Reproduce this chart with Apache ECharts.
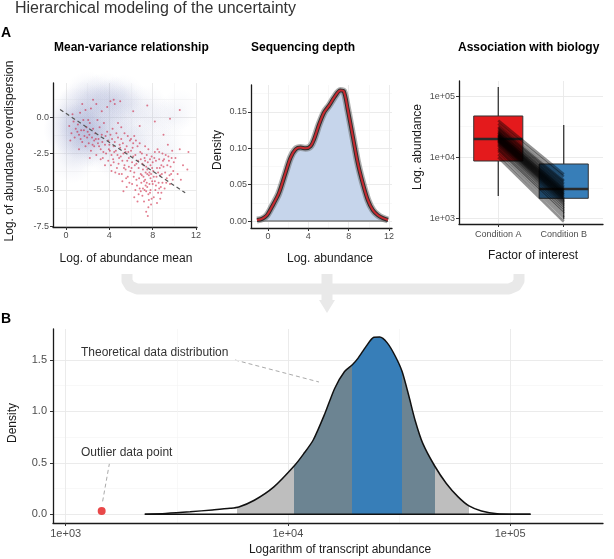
<!DOCTYPE html>
<html><head><meta charset="utf-8">
<script src="https://cdn.jsdelivr.net/npm/echarts@6/dist/echarts.min.js"></script>
<style>html,body{margin:0;padding:0;background:#fff}#c{width:614px;height:559px}</style>
</head><body><div id="c"></div>
<script>
// ---------------- DATA ----------------
// Panel A1: mean-variance relationship (log mean, log overdispersion)
const meanVarPoints = [
[0.3,-0.6],[0.5,-1.1],[0.7,-0.3],[0.8,-1.4],[0.9,-0.8],[0.6,0.2],[0.4,-1.6],
[1.1,-0.5],[1.2,-1.2],[1.3,0.3],[1.4,-0.9],[1.5,-1.7],[1.6,-0.2],[1.7,-1.3],[1.8,-2.0],[1.9,-0.7],[1.5,0.9],[1.2,-2.2],[1.8,0.5],
[2.0,-1.0],[2.1,-1.8],[2.2,-0.4],[2.3,-2.3],[2.4,-1.4],[2.5,-0.8],[2.6,-2.0],[2.7,-1.1],[2.8,-2.6],[2.9,-0.2],[2.3,0.6],[2.6,-1.6],[2.2,-2.8],[2.8,0.9],
[3.0,-1.5],[3.1,-0.7],[3.2,-2.2],[3.3,-1.2],[3.4,-2.8],[3.5,-0.4],[3.6,-1.9],[3.7,-2.5],[3.8,-1.0],[3.9,-3.0],[3.3,0.4],[3.6,-3.3],[3.9,-1.6],[3.2,-2.9],
[4.0,-1.9],[4.1,-1.2],[4.2,-2.6],[4.3,-0.8],[4.4,-3.1],[4.5,-1.7],[4.6,-2.3],[4.7,-3.5],[4.8,-1.4],[4.9,-2.8],[4.2,-3.7],[4.5,0.9],[4.8,-0.4],[4.4,-2.0],[4.9,-3.9],[4.1,1.1],
[5.0,-2.1],[5.1,-1.5],[5.2,-3.0],[5.3,-2.5],[5.4,-1.1],[5.5,-3.6],[5.6,-2.0],[5.7,-4.1],[5.8,-2.8],[5.9,-1.6],[5.2,-4.4],[5.5,-2.4],[5.8,-3.4],[5.1,-0.7],[5.6,-4.8],[5.4,-3.3],
[6.0,-2.3],[6.1,-3.1],[6.2,-1.8],[6.3,-3.8],[6.4,-2.6],[6.5,-4.3],[6.6,-2.0],[6.7,-3.5],[6.8,-4.9],[6.9,-2.9],[6.1,-4.6],[6.3,-1.3],[6.5,-3.2],[6.7,-5.3],[6.9,-3.9],[6.2,-2.7],[6.4,-5.0],[6.8,-1.8],
[7.0,-2.5],[7.1,-3.6],[7.2,-4.4],[7.3,-3.0],[7.4,-5.1],[7.5,-3.9],[7.6,-2.2],[7.7,-4.6],[7.8,-3.3],[7.9,-5.6],[7.0,-4.0],[7.2,-5.8],[7.3,-2.0],[7.4,-3.4],[7.5,-4.8],[7.6,-6.2],[7.7,-3.8],[7.8,-4.2],[7.9,-2.7],[7.1,-4.9],[7.5,-3.6],[7.3,-4.3],[7.6,-5.3],[7.8,-5.0],[7.4,-6.5],
[8.0,-3.1],[8.1,-4.1],[8.2,-2.4],[8.3,-4.7],[8.4,-3.5],[8.5,-5.2],[8.6,-2.9],[8.7,-4.0],[8.8,-3.3],[8.9,-4.5],[8.1,-5.5],[8.3,-3.0],[8.5,-3.8],[8.7,-5.6],[8.9,-2.5],[8.2,-4.4],[8.6,-4.9],
[9.0,-3.4],[9.2,-2.6],[9.3,-4.2],[9.5,-3.0],[9.6,-4.6],[9.8,-2.3],[9.9,-3.7],[9.1,-4.9],[9.4,-1.9],[9.7,-3.9],
[10.1,-2.8],[10.3,-3.9],[10.5,-2.2],[10.8,-3.3],[11.2,-3.6],[10.6,-4.3],
[2.5,1.2],[3.8,0.7],[4.4,1.2],[5.0,1.1],[6.2,0.4],[7.5,0.8],[8.2,-0.3],[9.6,-0.1],[10.5,0.5],[6.8,-0.6],[9.0,-1.2],[11.3,-2.4],
[4.05,-2.3],[4.15,-3.3],[4.25,-1.5],[4.35,-2.9],[4.45,-2.4],[4.55,-3.8],[4.65,-1.1],[4.75,-2.6],[4.85,-3.2],[4.95,-1.9],
[5.05,-2.7],[5.15,-3.9],[5.25,-1.8],[5.35,-3.5],[5.45,-2.2],[5.55,-4.2],[5.65,-3.0],[5.75,-2.4],[5.85,-4.5],[5.95,-3.7],[5.3,-5.1],[5.7,-1.3],
[6.05,-3.5],[6.15,-2.1],[6.25,-4.1],[6.35,-3.3],[6.45,-1.6],[6.55,-4.7],[6.65,-3.0],[6.75,-4.2],[6.85,-2.4],[6.95,-4.5],[6.3,-5.5],[6.6,-5.8],[6.0,-1.5],[6.9,-5.1],
[7.05,-3.2],[7.15,-4.1],[7.25,-2.8],[7.35,-3.8],[7.45,-4.5],[7.55,-3.1],[7.65,-4.0],[7.75,-2.9],[7.85,-3.9],[7.95,-4.4],[7.05,-5.4],[7.25,-5.0],[7.45,-2.6],[7.65,-5.7],[7.85,-6.0],[7.55,-6.8],[7.35,-4.7],[7.15,-3.3],[7.95,-3.5],[7.75,-5.2],
[8.05,-3.7],[8.15,-2.8],[8.25,-5.0],[8.35,-4.1],[8.45,-2.2],[8.55,-4.5],[8.65,-3.5],[8.75,-4.8],[8.85,-3.9],[8.95,-3.0],[8.4,-5.9],[8.0,-4.6],[8.6,-2.4],[8.8,-5.2],
[9.05,-2.9],[9.15,-3.8],[9.25,-4.5],[9.35,-3.3],[9.45,-2.7],[9.55,-4.0],[9.65,-3.4],[9.75,-2.8],[9.85,-4.3],[9.95,-3.1],
[1.05,-1.0],[1.35,-1.5],[1.65,-0.9],[1.95,-1.4],[2.15,-1.2],[2.45,-1.9],[2.75,-1.5],[3.05,-2.0],[3.35,-1.7],[3.65,-1.3],[3.95,-2.2],[2.05,-0.2],[2.95,-1.8],[3.45,-2.4]
];
// density cloud of simulated data: [log mean, log overdispersion, relative density]
const meanVarCloud = [
[0.5,-0.8,1],[1.2,-1.0,1],[1.8,-0.6,0.9],[0.8,0.3,0.8],[1.5,0.8,0.7],[2.5,-0.9,0.8],[2.2,-1.8,0.7],[1.0,-2.0,0.7],
[0.6,-3.0,0.5],[3.0,0.6,0.7],[3.5,-0.5,0.7],[2.8,1.3,0.6],[4.0,1.0,0.6],[4.6,1.2,0.6],[5.2,0.7,0.5],[6.0,0.9,0.45],
[4.5,-1.0,0.55],[5.5,-1.8,0.45],[6.5,-0.8,0.4],[7.5,0.8,0.35],[8.5,0.1,0.3],[9.6,-0.1,0.3],[10.5,0.55,0.3],
[6.8,-2.8,0.35],[7.8,-3.5,0.3],[8.8,-2.2,0.3],[4.8,-3.0,0.35],[3.5,-2.3,0.5],[2.0,1.6,0.5],[3.6,1.6,0.45],[5.3,1.5,0.4],
[6.0,-1.5,0.3],[7.0,-1.8,0.3],[8.0,-1.0,0.25],[5.0,-0.4,0.4],[9.0,-3.0,0.2],[3.0,-1.5,0.6],[7.0,0.2,0.3],[9.5,-1.8,0.2]
];
const meanVarTrend = [[-0.55, 0.53], [11.0, -5.2]];

// Panel A2: sequencing depth density
const depthDensity = [[-1.1,0.0014],[-0.6,0.003],[-0.1,0.008],[0.4,0.02],[1.07,0.038],[1.73,0.066],[2.23,0.087],[2.73,0.0986],[3.23,0.101],[3.73,0.100],[4.23,0.103],[4.57,0.1125],[5.07,0.133],[5.57,0.1495],[6.07,0.159],[6.57,0.170],[7.17,0.1796],[7.5,0.1787],[7.9,0.154],[8.4,0.117],[8.9,0.080],[9.4,0.052],[9.9,0.029],[10.4,0.015],[10.9,0.008],[11.4,0.004],[11.9,0.0014]];

// Panel A3: association with biology (log10 abundance)
const boxCategories = ['Condition A', 'Condition B'];
const boxLog10 = [ // [min, q1, median, q3, max]
  [3.366, 3.938, 4.298, 4.674, 5.148],
  [2.985, 3.328, 3.480, 3.889, 4.527]
];
const drawStartLog10 = [4.60,4.55,4.50,4.48,4.45,4.43,4.41,4.40,4.38,4.37,4.36,4.35,4.34,4.33,4.32,4.31,4.30,4.29,4.28,4.27,4.26,4.25,4.23,4.21,4.19,4.16,4.13,4.10,4.05,4.00];
const drawEndLog10   = [3.72,3.68,3.62,3.60,3.57,3.55,3.52,3.50,3.48,3.46,3.45,3.43,3.42,3.40,3.39,3.38,3.36,3.35,3.33,3.32,3.30,3.28,3.26,3.23,3.20,3.16,3.12,3.08,3.02,2.95];

// Panel B: theoretical distribution (log10 abundance, density)
const theoDensity = [[3.356,0],[3.45,0.008],[3.56,0.024],[3.66,0.042],[3.74,0.058],[3.779,0.071],[3.849,0.136],[3.937,0.266],[4.029,0.471],[4.070,0.584],[4.114,0.721],[4.167,0.981],[4.211,1.224],[4.255,1.386],[4.290,1.451],[4.316,1.516],[4.352,1.630],[4.387,1.718],[4.413,1.721],[4.448,1.662],[4.484,1.532],[4.514,1.386],[4.545,1.143],[4.572,0.916],[4.607,0.688],[4.660,0.471],[4.713,0.299],[4.766,0.169],[4.815,0.081],[4.871,0.032],[4.942,0.006],[5.092,0]];
const bandEdgesLog10 = [3.770, 4.029, 4.290, 4.514, 4.660, 4.815];
const bandLabels = ['90%', '60%', '30%'];
const bandLabelPos = [[3.955, 0.114], [4.163, 0.114], [4.399, 0.114]];
const outlierPoint = [[3.162, 0.032]];

// ---------------- STYLE ----------------
const FONT = '"Liberation Sans", Arial, Helvetica, sans-serif';
const boxColors = ['#e41a1c', '#377eb8'];
const bandColors = ['#bebebe', '#6c8492', '#377eb8', '#6c8492', '#bebebe'];
const majorGrid = '#e9e9e9', minorGrid = '#f4f4f4';

function mainAxis(gi, min, max, ticks, fmt, fs, margin) {
  return {
    type: 'value', gridIndex: gi, min: min, max: max,
    axisLine: { show: true, onZero: false, lineStyle: { color: '#1a1a1a', width: 1.3 } },
    axisTick: { show: true, length: 3, customValues: ticks, lineStyle: { color: '#333', width: 1 } },
    axisLabel: { customValues: ticks, formatter: fmt, color: '#4d4d4d', fontSize: fs, fontFamily: FONT, margin: margin },
    splitLine: { show: true, lineStyle: { color: majorGrid, width: 0.9 } }
  };
}
function minorAxis(gi, min, max, ticks) {
  return {
    type: 'value', gridIndex: gi, min: min, max: max,
    axisLine: { show: false }, axisTick: { show: false, customValues: ticks },
    axisLabel: { show: false, customValues: ticks },
    splitLine: { show: ticks.length > 0, lineStyle: { color: minorGrid, width: 0.6 } }
  };
}
const log10Fmt = v => '1e+0' + Math.round(v);

const xAxes = [
  mainAxis(0, -1.2, 12.09, [0,4,8,12], v => String(v), 9, 4), minorAxis(0, -1.2, 12.09, [2,6,10]),
  mainAxis(1, -1.69, 12.3, [0,4,8,12], v => String(v), 9, 4), minorAxis(1, -1.69, 12.3, [2,6,10]),
  mainAxis(2, 0.4, 2.6, [1,2], v => boxCategories[Math.round(v)-1], 9, 6), minorAxis(2, 0.4, 2.6, []),
  mainAxis(3, 2.943, 5.418, [3,4,5], log10Fmt, 11, 5), minorAxis(3, 2.943, 5.418, [3.5,4.5])
];
const yAxes = [
  mainAxis(0, -7.55, 2.35, [-7.5,-5,-2.5,0], v => v.toFixed(1), 9, 4), minorAxis(0, -7.55, 2.35, [-6.25,-3.75,-1.25,1.25]),
  mainAxis(1, -0.0096, 0.187, [0,0.05,0.10,0.15], v => v.toFixed(2), 9, 4), minorAxis(1, -0.0096, 0.187, [0.025,0.075,0.125,0.175]),
  mainAxis(2, 2.908, 5.246, [3,4,5], log10Fmt, 9, 4), minorAxis(2, 2.908, 5.246, [3.5,4.5]),
  mainAxis(3, -0.085, 1.799, [0,0.5,1,1.5], v => v.toFixed(1), 11, 6), minorAxis(3, -0.085, 1.799, [0.25,0.75,1.25])
];
const grids = [
  { left: 53, top: 83, width: 144, height: 144 },
  { left: 251, top: 85, width: 141, height: 143 },
  { left: 459, top: 81, width: 144, height: 143 },
  { left: 53, top: 329, width: 550, height: 194 }
];

const series = [];
function add(s) { series.push(s); return series.length - 1; }

// A1
add({ type: 'scatter', xAxisIndex: 0, yAxisIndex: 0, silent: true, data: meanVarCloud,
  symbolSize: v => 34 + 22 * v[2],
  itemStyle: { color: function (p) {
    const a = 0.24 * p.value[2];
    return { type: 'radial', x: 0.5, y: 0.5, r: 0.5, colorStops: [
      { offset: 0, color: 'rgba(130,142,192,' + a + ')' },
      { offset: 0.55, color: 'rgba(140,150,198,' + (a * 0.55) + ')' },
      { offset: 1, color: 'rgba(150,160,205,0)' }] };
  } } });
add({ type: 'scatter', xAxisIndex: 0, yAxisIndex: 0, silent: true, data: meanVarPoints, symbolSize: 2,
  itemStyle: { color: 'rgba(205,30,60,0.72)' } });
add({ type: 'line', xAxisIndex: 0, yAxisIndex: 0, silent: true, data: meanVarTrend, symbol: 'none',
  lineStyle: { color: '#555', width: 1.2, type: [4, 3] } });

// A2
add({ type: 'line', xAxisIndex: 2, yAxisIndex: 2, silent: true, data: depthDensity, symbol: 'none', smooth: 0.3,
  lineStyle: { width: 0 }, areaStyle: { color: '#c6d5eb', opacity: 1 } });
add({ type: 'line', xAxisIndex: 2, yAxisIndex: 2, silent: true, symbol: 'none',
  data: [[depthDensity[0][0], 0], [depthDensity[depthDensity.length-1][0], 0]],
  lineStyle: { color: 'rgba(120,120,120,0.7)', width: 2 } });
add({ type: 'line', xAxisIndex: 2, yAxisIndex: 2, silent: true, data: depthDensity, symbol: 'none', smooth: 0.3,
  lineStyle: { color: 'rgba(110,110,110,0.55)', width: 7 } });
add({ type: 'line', xAxisIndex: 2, yAxisIndex: 2, silent: true, data: depthDensity, symbol: 'none', smooth: 0.3,
  lineStyle: { color: 'rgba(25,25,25,0.85)', width: 4 } });
add({ type: 'line', xAxisIndex: 2, yAxisIndex: 2, silent: true, data: depthDensity, symbol: 'none', smooth: 0.3,
  lineStyle: { color: '#c62a30', width: 2 } });

// A3 boxes
add({ type: 'custom', xAxisIndex: 4, yAxisIndex: 4, silent: true,
  dimensions: ['x','lo','q1','med','q3','hi'], encode: { x: 0, y: [1,2,3,4,5] },
  data: boxLog10.map((b, i) => [i + 1].concat(b)),
  renderItem: function (params, api) {
    const xi = api.value(0), half = 0.375;
    const pLo = api.coord([xi, api.value(1)]), pHi = api.coord([xi, api.value(5)]);
    const pQ1 = api.coord([xi - half, api.value(2)]), pQ3 = api.coord([xi + half, api.value(4)]);
    const mL = api.coord([xi - half, api.value(3)]), mR = api.coord([xi + half, api.value(3)]);
    return { type: 'group', children: [
      { type: 'line', shape: { x1: pLo[0], y1: pLo[1], x2: pHi[0], y2: pHi[1] }, style: { stroke: '#333', lineWidth: 1.3 } },
      { type: 'rect', shape: { x: pQ1[0], y: pQ3[1], width: pQ3[0] - pQ1[0], height: pQ1[1] - pQ3[1] },
        style: { fill: boxColors[params.dataIndex], stroke: '#333', lineWidth: 1 } },
      { type: 'line', shape: { x1: mL[0], y1: mL[1], x2: mR[0], y2: mR[1] }, style: { stroke: '#2a2a2a', lineWidth: 2.5 } }
    ] };
  } });
// A3 posterior draws linking conditions
add({ type: 'custom', xAxisIndex: 4, yAxisIndex: 4, silent: true,
  data: drawStartLog10.map((s, i) => [s, drawEndLog10[i]]),
  renderItem: function (params, api) {
    const p1 = api.coord([1, api.value(0)]), p2 = api.coord([2, api.value(1)]);
    return { type: 'line', shape: { x1: p1[0], y1: p1[1], x2: p2[0], y2: p2[1] },
      style: { stroke: 'rgba(0,0,0,0.42)', lineWidth: 2.8 } };
  } });

// B
const bArea = add({ type: 'line', xAxisIndex: 6, yAxisIndex: 6, silent: true, data: theoDensity, symbol: 'none', smooth: 0.25,
  lineStyle: { width: 0 }, areaStyle: { opacity: 1 } });
add({ type: 'line', xAxisIndex: 6, yAxisIndex: 6, silent: true, symbol: 'none',
  data: [[theoDensity[0][0], 0], [theoDensity[theoDensity.length-1][0], 0]],
  lineStyle: { color: '#111', width: 1.4 } });
add({ type: 'line', xAxisIndex: 6, yAxisIndex: 6, silent: true, data: theoDensity, symbol: 'none', smooth: 0.25,
  lineStyle: { color: '#111', width: 1.5 } });
add({ type: 'scatter', xAxisIndex: 6, yAxisIndex: 6, silent: true, data: outlierPoint, symbolSize: 8,
  itemStyle: { color: '#e41a1c' } });
add({ type: 'scatter', xAxisIndex: 6, yAxisIndex: 6, silent: true, symbolSize: 0,
  data: bandLabelPos.map((p, i) => ({ value: p, name: bandLabels[i] })),
  label: { show: true, position: 'inside', formatter: p => p.name, color: '#fff', fontSize: 12, fontFamily: FONT } });

const pieces = [];
for (let i = 0; i < bandColors.length; i++) pieces.push({ gte: bandEdgesLog10[i], lt: bandEdgesLog10[i+1], color: bandColors[i] });

function txt(x, y, text, size, opts) {
  return Object.assign({ type: 'text', x: x, y: y, silent: true,
    style: Object.assign({ text: text, fontSize: size, fontFamily: FONT, fill: '#1a1a1a',
      align: 'left', verticalAlign: 'middle', textAlign: 'left', textVerticalAlign: 'middle' }, (opts && opts.style) || {}) },
    (opts && opts.el) || {});
}
const C = { align: 'center', textAlign: 'center' };
const BR = '#e9e9e9';
const graphics = [
  // connector bracket
  { type: 'polyline', silent: true, z: -1,
    shape: { points: [[127,274],[127,281],[130,286],[137,289],[509,289],[516,286],[519,281],[519,274]] },
    style: { fill: null, stroke: BR, lineWidth: 11, lineJoin: 'round' } },
  { type: 'line', silent: true, z: -1, shape: { x1: 327, y1: 274, x2: 327, y2: 301 }, style: { stroke: BR, lineWidth: 11 } },
  { type: 'polygon', silent: true, z: -1, shape: { points: [[319, 300], [335, 300], [327, 313]] }, style: { fill: BR } },
  txt(15, 9, 'Hierarchical modeling of the uncertainty', 16, { style: { fill: '#333' } }),
  txt(1, 33, 'A', 14, { style: { fontWeight: 'bold', fill: '#000' } }),
  txt(1, 319, 'B', 14, { style: { fontWeight: 'bold', fill: '#000' } }),
  txt(54, 48, 'Mean-variance relationship', 12, { style: { fontWeight: 'bold', fill: '#000' } }),
  txt(251, 48, 'Sequencing depth', 12, { style: { fontWeight: 'bold', fill: '#000' } }),
  txt(458, 48, 'Association with biology', 12, { style: { fontWeight: 'bold', fill: '#000' } }),
  txt(9.5, 151, 'Log. of abundance overdispersion', 12, { style: C, el: { rotation: Math.PI / 2 } }),
  txt(126, 259, 'Log. of abundance mean', 12, { style: C }),
  txt(218, 150, 'Density', 12, { style: C, el: { rotation: Math.PI / 2 } }),
  txt(330, 259, 'Log. abundance', 12, { style: C }),
  txt(418, 147, 'Log. abundance', 12, { style: C, el: { rotation: Math.PI / 2 } }),
  txt(533, 256, 'Factor of interest', 12, { style: C }),
  txt(12.5, 423, 'Density', 12, { style: C, el: { rotation: Math.PI / 2 } }),
  txt(340, 550, 'Logarithm of transcript abundance', 12, { style: C }),
  txt(81, 353, 'Theoretical data distribution', 12, { style: { fill: '#333' } }),
  txt(81, 453, 'Outlier data point', 12, { style: { fill: '#333' } }),
  { type: 'line', silent: true, shape: { x1: 235, y1: 360, x2: 319, y2: 382 }, style: { stroke: '#aaa', lineWidth: 1, lineDash: [4, 3] } },
  { type: 'line', silent: true, shape: { x1: 109.5, y1: 463, x2: 102.5, y2: 502 }, style: { stroke: '#aaa', lineWidth: 1, lineDash: [4, 3] } }
];

const chart = echarts.init(document.getElementById('c'), null, { renderer: 'canvas' });
chart.setOption({
  animation: false,
  backgroundColor: '#fff',
  textStyle: { fontFamily: FONT },
  grid: grids,
  xAxis: xAxes,
  yAxis: yAxes,
  visualMap: [{ type: 'piecewise', show: false, dimension: 0, seriesIndex: bArea, pieces: pieces,
    outOfRange: { color: 'rgba(255,255,255,0)' } }],
  graphic: graphics,
  series: series
});
</script>
</body></html>
